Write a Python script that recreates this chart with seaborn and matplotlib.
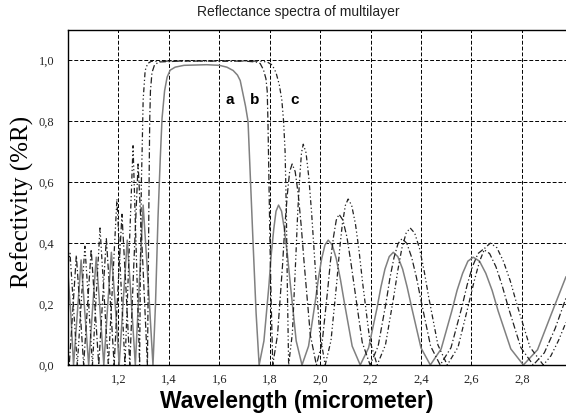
import numpy as np
import pandas as pd
import seaborn as sns
import matplotlib.pyplot as plt

# Curve a (solid grey)
a_x = [1.000, 1.011, 1.022, 1.037, 1.052, 1.067, 1.082, 1.097, 1.112, 1.127, 1.142,
       1.157, 1.172, 1.188, 1.203, 1.219, 1.235, 1.251, 1.267, 1.283, 1.298, 1.318, 1.337,
       1.347, 1.357, 1.366, 1.373, 1.383, 1.393, 1.405, 1.425, 1.460, 1.550, 1.600, 1.630,
       1.655, 1.672, 1.683, 1.694, 1.704, 1.714, 1.724, 1.734, 1.746, 1.758,
       1.777, 1.797, 1.806, 1.816, 1.825, 1.835, 1.847, 1.858, 1.870, 1.882, 1.905, 1.928,
       1.954, 1.980, 1.993, 2.006, 2.019, 2.032, 2.048, 2.064, 2.080, 2.096, 2.127, 2.159,
       2.192, 2.225, 2.241, 2.257, 2.274, 2.290, 2.308, 2.327, 2.345, 2.364, 2.400, 2.437,
       2.480, 2.522, 2.543, 2.565, 2.586, 2.607, 2.632, 2.657, 2.682, 2.706, 2.756, 2.806,
       2.862, 2.918, 2.975]
a_y = [0.30, 0.17, 0.0, 0.17, 0.345, 0.17, 0.0, 0.18, 0.354, 0.18, 0.0,
       0.19, 0.37, 0.19, 0.0, 0.21, 0.41, 0.21, 0.0, 0.27, 0.525, 0.27, 0.0,
       0.20, 0.485, 0.68, 0.81, 0.90, 0.945, 0.968, 0.978, 0.984, 0.986, 0.984, 0.978,
       0.967, 0.952, 0.934, 0.89, 0.85, 0.80, 0.60, 0.40, 0.17, 0.0,
       0.079, 0.263, 0.363, 0.446, 0.505, 0.525, 0.505, 0.446, 0.363, 0.263, 0.079, 0.0,
       0.062, 0.205, 0.283, 0.349, 0.394, 0.41, 0.394, 0.349, 0.283, 0.205, 0.062, 0.0,
       0.056, 0.185, 0.256, 0.315, 0.356, 0.37, 0.356, 0.315, 0.256, 0.185, 0.056, 0.0,
       0.053, 0.177, 0.245, 0.301, 0.341, 0.354, 0.341, 0.301, 0.245, 0.177, 0.053, 0.0,
       0.05, 0.17, 0.29]

# Curve b (dash-dot)
b_x = [1.000, 1.005, 1.019, 1.033, 1.048, 1.062, 1.077, 1.092, 1.107, 1.122,
       1.137, 1.152, 1.168, 1.183, 1.198, 1.214, 1.230, 1.245, 1.261, 1.278, 1.297, 1.315,
       1.318, 1.321, 1.324, 1.327, 1.333, 1.343, 1.360, 1.450, 1.700, 1.745, 1.762,
       1.775, 1.785, 1.790, 1.793, 1.797, 1.801, 1.806, 1.812,
       1.831, 1.851, 1.860, 1.870, 1.879, 1.889, 1.901, 1.913, 1.925, 1.937, 1.961, 1.985,
       2.008, 2.030, 2.041, 2.053, 2.064, 2.075, 2.090, 2.106, 2.121, 2.137, 2.167, 2.198,
       2.230, 2.262, 2.277, 2.293, 2.309, 2.325, 2.344, 2.363, 2.382, 2.401, 2.438, 2.476,
       2.519, 2.562, 2.583, 2.604, 2.626, 2.647, 2.672, 2.697, 2.721, 2.746, 2.796, 2.845,
       2.889, 2.932, 2.975]
b_y = [0.03, 0.0, 0.18, 0.36, 0.18, 0.0, 0.19, 0.38, 0.19, 0.0,
       0.21, 0.415, 0.21, 0.0, 0.25, 0.495, 0.25, 0.0, 0.33, 0.66, 0.33, 0.0,
       0.25, 0.55, 0.80, 0.90, 0.96, 0.985, 0.995, 0.998, 0.998, 0.995, 0.99,
       0.97, 0.94, 0.90, 0.80, 0.60, 0.40, 0.20, 0.0,
       0.099, 0.33, 0.456, 0.561, 0.635, 0.66, 0.635, 0.561, 0.456, 0.33, 0.099, 0.0,
       0.074, 0.248, 0.342, 0.421, 0.476, 0.495, 0.476, 0.421, 0.342, 0.248, 0.074, 0.0,
       0.062, 0.208, 0.287, 0.353, 0.399, 0.415, 0.399, 0.353, 0.287, 0.208, 0.062, 0.0,
       0.057, 0.19, 0.263, 0.323, 0.366, 0.38, 0.366, 0.323, 0.263, 0.19, 0.057, 0.0,
       0.04, 0.12, 0.22]

# Curve c (dash-dot-dot)
c_x = [1.000, 1.008, 1.022, 1.037, 1.052, 1.067, 1.082, 1.097,
       1.112, 1.127, 1.143, 1.160, 1.177, 1.194, 1.210, 1.226, 1.242, 1.258, 1.271, 1.284,
       1.287, 1.291, 1.294, 1.298, 1.306, 1.316, 1.330, 1.400, 1.760, 1.790, 1.810,
       1.825, 1.838, 1.848, 1.855, 1.861, 1.866, 1.870, 1.875,
       1.890, 1.904, 1.911, 1.919, 1.926, 1.933, 1.944, 1.955, 1.966, 1.977, 1.998, 2.020,
       2.043, 2.066, 2.077, 2.088, 2.100, 2.111, 2.125, 2.140, 2.154, 2.168, 2.197, 2.226,
       2.259, 2.292, 2.308, 2.324, 2.341, 2.357, 2.375, 2.394, 2.412, 2.430, 2.467, 2.504,
       2.547, 2.589, 2.611, 2.632, 2.654, 2.675, 2.701, 2.727, 2.754, 2.780, 2.832, 2.885,
       2.915, 2.945, 2.975]
c_y = [0.33, 0.367, 0.19, 0.0, 0.20, 0.39, 0.20, 0.0,
       0.23, 0.45, 0.23, 0.0, 0.27, 0.545, 0.27, 0.0, 0.36, 0.72, 0.36, 0.0,
       0.30, 0.60, 0.705, 0.87, 0.967, 0.99, 0.997, 0.998, 0.998, 0.995, 0.985,
       0.96, 0.92, 0.87, 0.80, 0.70, 0.50, 0.25, 0.0,
       0.106, 0.363, 0.501, 0.616, 0.697, 0.725, 0.697, 0.616, 0.501, 0.363, 0.106, 0.0,
       0.08, 0.273, 0.377, 0.463, 0.524, 0.545, 0.524, 0.463, 0.377, 0.273, 0.08, 0.0,
       0.066, 0.225, 0.311, 0.383, 0.433, 0.45, 0.433, 0.383, 0.311, 0.225, 0.066, 0.0,
       0.059, 0.20, 0.276, 0.34, 0.385, 0.40, 0.385, 0.34, 0.276, 0.20, 0.059, 0.0,
       0.03, 0.08, 0.14]

curve_names = ['a', 'b', 'c']
label_x = [1.643, 1.742, 1.897]
label_y = [0.87, 0.87, 0.87]

x_ticks = [1.2, 1.4, 1.6, 1.8, 2.0, 2.2, 2.4, 2.6, 2.8]
x_tick_labels = ['1,2', '1,4', '1,6', '1,8', '2,0', '2,2', '2,4', '2,6', '2,8']
y_ticks = [0.0, 0.2, 0.4, 0.6, 0.8, 1.0]
y_tick_labels = ['0,0', '0,2', '0,4', '0,6', '0,8', '1,0']

sns.set_theme(style='white')
plt.rcParams['font.family'] = ['Liberation Sans', 'DejaVu Sans']

fig = plt.figure(figsize=(5.66, 4.19), dpi=100)
ax = fig.add_axes([68 / 566, 54 / 419, 498 / 566, 335 / 419])

styles = [
    dict(color='#808080', linestyle='-', linewidth=1.1),
    dict(color='#222222', linestyle=(0, (5, 2, 1, 2)), linewidth=0.9),
    dict(color='#222222', linestyle=(0, (4, 2, 1, 2, 1, 2)), linewidth=0.9),
]
for (xs, ys), st in zip([(a_x, a_y), (b_x, b_y), (c_x, c_y)], styles):
    df = pd.DataFrame({'wl': xs, 'R': ys})
    sns.lineplot(data=df, x='wl', y='R', ax=ax, sort=False, estimator=None, **st)

for name, lx, ly in zip(curve_names, label_x, label_y):
    ax.text(lx, ly, name, ha='center', va='center', fontsize=11, fontweight='bold', color='black')

ax.set_xlim(1.0, 2.975)
ax.set_ylim(0, 1.1)
ax.set_xticks(x_ticks)
ax.set_xticklabels(x_tick_labels, family='Liberation Serif', fontsize=9)
ax.set_yticks(y_ticks)
ax.set_yticklabels(y_tick_labels, family='Liberation Serif', fontsize=9)
ax.tick_params(axis='both', length=0)
ax.tick_params(axis='x', pad=6)
ax.tick_params(axis='y', pad=10)
ax.grid(True, color='black', linestyle=(0, (4, 2)), linewidth=0.7)

for side in ['left', 'bottom', 'top']:
    ax.spines[side].set_color('black')
    ax.spines[side].set_linewidth(1.0)
ax.spines['right'].set_visible(False)

ax.set_xlabel('')
ax.set_ylabel('')
fig.text(297 / 566, 1 - 401 / 419, 'Wavelength (micrometer)', ha='center', va='center',
         fontsize=16.5, fontweight='bold', color='black')
fig.text(22 / 566, 1 - 202 / 419, 'Refectivity (%R)', ha='center', va='center',
         rotation=90, fontsize=18, family='Liberation Serif', color='black')
fig.text(298 / 566, 1 - 12 / 419, 'Reflectance spectra of multilayer', ha='center', va='center',
         fontsize=10, color='#222222')

fig.savefig('out.png', dpi=100)
